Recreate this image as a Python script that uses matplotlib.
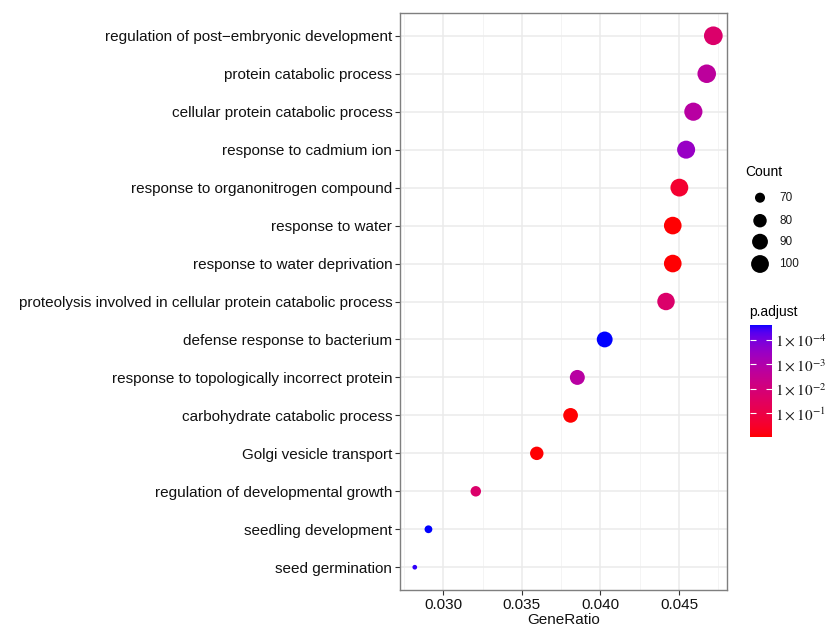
import matplotlib
matplotlib.use("Agg")
import matplotlib.pyplot as plt
import numpy as np
from matplotlib.colors import ListedColormap, LogNorm
from matplotlib.cm import ScalarMappable

plt.rcParams['font.family'] = ['Liberation Sans', 'DejaVu Sans']
plt.rcParams['mathtext.fontset'] = 'stix'

##### Data (top to bottom) #####
terms = [
    'regulation of post\u2212embryonic development',
    'protein catabolic process',
    'cellular protein catabolic process',
    'response to cadmium ion',
    'response to organonitrogen compound',
    'response to water',
    'response to water deprivation',
    'proteolysis involved in cellular protein catabolic process',
    'defense response to bacterium',
    'response to topologically incorrect protein',
    'carbohydrate catabolic process',
    'Golgi vesicle transport',
    'regulation of developmental growth',
    'seedling development',
    'seed germination',
]
gene_ratio = [0.04718, 0.04676, 0.04591, 0.04545, 0.04502, 0.0446, 0.0446,
              0.04417, 0.04027, 0.03853, 0.0381, 0.03595, 0.03207, 0.02906, 0.02819]
counts = [105, 104, 102, 101, 100, 99, 99, 98, 90, 86, 85, 80, 71, 66, 64]
p_adjust = [2e-2, 2e-3, 1.5e-3, 3e-4, 2.5e-1, 0.9, 0.9, 2e-2,
            2.5e-5, 1.5e-3, 0.9, 0.9, 2e-2, 2.5e-5, 3e-5]

count_breaks = [70, 80, 90, 100]
p_breaks = [1e-4, 1e-3, 1e-2, 1e-1]
p_labels = [r'$1\times10^{-4}$', r'$1\times10^{-3}$', r'$1\times10^{-2}$', r'$1\times10^{-1}$']
p_lim = (2.4e-5, 0.95)


##### red -> blue gradient interpolated in Lab (like ggplot) #####
def srgb_to_lab(rgb):
    c = np.array(rgb, dtype=float)
    c = np.where(c > 0.04045, ((c + 0.055) / 1.055) ** 2.4, c / 12.92)
    m = np.array([[0.4124, 0.3576, 0.1805], [0.2126, 0.7152, 0.0722], [0.0193, 0.1192, 0.9505]])
    xyz = m @ c / np.array([0.95047, 1.0, 1.08883])
    f = np.where(xyz > 0.008856, np.cbrt(xyz), 7.787 * xyz + 16 / 116)
    return np.array([116 * f[1] - 16, 500 * (f[0] - f[1]), 200 * (f[1] - f[2])])


def lab_to_srgb(lab):
    L, a, b = lab
    fy = (L + 16) / 116
    f = np.array([fy + a / 500, fy, fy - b / 200])
    xyz = np.where(f ** 3 > 0.008856, f ** 3, (f - 16 / 116) / 7.787) * np.array([0.95047, 1.0, 1.08883])
    m = np.array([[3.2406, -1.5372, -0.4986], [-0.9689, 1.8758, 0.0415], [0.0557, -0.2040, 1.0570]])
    c = m @ xyz
    c = np.where(c > 0.0031308, 1.055 * np.abs(c) ** (1 / 2.4) - 0.055, 12.92 * c)
    return np.clip(c, 0, 1)


lab_blue = srgb_to_lab([0, 0, 1])
lab_red = srgb_to_lab([1, 0, 0])
cmap = ListedColormap([lab_to_srgb(lab_blue + (lab_red - lab_blue) * t) for t in np.linspace(0, 1, 256)])
norm = LogNorm(vmin=p_lim[0], vmax=p_lim[1])


def marker_size(c):
    # area scale: diameter grows with sqrt of rescaled count
    c = np.asarray(c, dtype=float)
    d_px = 4.7 + 14.0 * np.sqrt((c - min(counts)) / (max(counts) - min(counts)))
    return (d_px * 0.72) ** 2


##### Figure #####
fig = plt.figure(figsize=(8.3, 6.26), dpi=100)
ax = fig.add_axes([400 / 830, 1 - 590 / 626, 327 / 830, 577 / 626])

y = np.arange(len(terms))[::-1]
ax.scatter(gene_ratio, y, s=marker_size(counts), c=p_adjust, cmap=cmap, norm=norm,
           edgecolors='none', zorder=3)

ax.set_ylim(-0.6, len(terms) - 0.4)
ax.set_yticks(y)
ax.set_yticklabels(terms)
ax.set_xlim(0.02725, 0.04805)
ax.set_xticks([0.030, 0.035, 0.040, 0.045])
ax.set_xticklabels(['0.030', '0.035', '0.040', '0.045'])
ax.set_xticks(np.arange(0.0275, 0.048, 0.005), minor=True)
ax.grid(True, which='major', color='#EBEBEB', linewidth=1.1, zorder=0)
ax.grid(True, which='minor', axis='x', color='#F2F2F2', linewidth=0.6, zorder=0)
ax.set_axisbelow(True)
ax.tick_params(axis='both', which='major', length=3.5, width=0.8, color='#333333',
               labelsize=11, labelcolor='#111111', pad=2)
ax.tick_params(axis='x', which='minor', length=0)
for sp in ax.spines.values():
    sp.set_color('#7F7F7F')
    sp.set_linewidth(1.0)
ax.set_xlabel('GeneRatio', fontsize=11, color='#111111', labelpad=1)

##### Count legend #####
lax = fig.add_axes([740 / 830, 1 - 275 / 626, 60 / 830, 90 / 626])
lax.set_xlim(0, 60)
lax.set_ylim(275, 185)
lax.axis('off')
leg_y = [197.7, 220.7, 241.7, 264]
lax.scatter([20] * 4, leg_y, s=marker_size(count_breaks), color='black', edgecolors='none')
for yy, lab in zip(leg_y, count_breaks):
    lax.text(39, yy, str(lab), fontsize=8.5, va='center', ha='left', color='#1A1A1A')
fig.text(745 / 830, 1 - 172 / 626, 'Count', fontsize=10, va='center', ha='left')

##### p.adjust colorbar #####
fig.text(749 / 830, 1 - 312 / 626, 'p.adjust', fontsize=10, va='center', ha='left')
cax = fig.add_axes([750 / 830, 1 - 437 / 626, 22 / 830, 112 / 626])
cb = fig.colorbar(ScalarMappable(norm=norm, cmap=cmap), cax=cax)
cb.outline.set_visible(False)
cb.ax.invert_yaxis()
cb.set_ticks(p_breaks)
cb.set_ticklabels(p_labels)
cb.ax.minorticks_off()
cb.ax.tick_params(direction='in', length=4, width=0.8, color='white', pad=2,
                  left=True, right=True, labelsize=11)
for t in cb.ax.get_yticklabels():
    t.set_color('#1A1A1A')

fig.savefig('out.png', dpi=100)
